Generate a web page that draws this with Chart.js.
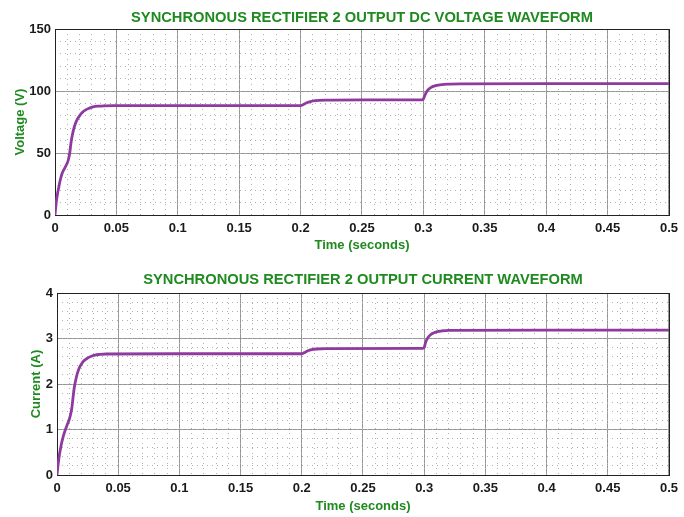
<!DOCTYPE html>
<html>
<head>
<meta charset="utf-8">
<script src="https://cdn.jsdelivr.net/npm/chart.js@4/dist/chart.umd.min.js"></script>
<style>
  html, body { margin: 0; padding: 0; background: #fff; }
  canvas { display: block; }
</style>
</head>
<body>
<canvas id="voltChart" width="684" height="258"></canvas>
<canvas id="currChart" width="684" height="259"></canvas>
<script>
// rectifier output, sampled at the corners of the trace
const timeV = [0, 0.001, 0.002, 0.003, 0.004, 0.005, 0.006, 0.008, 0.010, 0.011, 0.012, 0.013, 0.014,
  0.016, 0.018, 0.020, 0.022, 0.025, 0.028, 0.031, 0.035, 0.040, 0.05, 0.1, 0.15, 0.2,
  0.202, 0.205, 0.208, 0.212, 0.22, 0.25, 0.299, 0.300, 0.301, 0.303, 0.306, 0.31, 0.315,
  0.32, 0.33, 0.4, 0.5];
const voltage = [0, 10, 17, 22, 27, 31, 34, 38, 42, 45, 50, 58, 64,
  72, 77, 80, 82.5, 84.8, 86.2, 87.2, 87.8, 88.1, 88.2, 88.3, 88.2, 88.3,
  89, 90.5, 91.5, 92.2, 92.6, 92.8, 92.9, 93.5, 96, 100, 102.8, 104.3, 105.2,
  105.6, 105.8, 105.9, 105.9];

const timeI = [0, 0.001, 0.002, 0.003, 0.004, 0.005, 0.006, 0.008, 0.010, 0.011, 0.012, 0.013, 0.014,
  0.016, 0.018, 0.020, 0.022, 0.025, 0.028, 0.031, 0.035, 0.04, 0.1, 0.2,
  0.202, 0.205, 0.208, 0.212, 0.22, 0.299, 0.3, 0.301, 0.303, 0.306, 0.31, 0.315,
  0.32, 0.4, 0.5];
const current = [0, 0.25, 0.45, 0.6, 0.73, 0.84, 0.93, 1.08, 1.22, 1.32, 1.45, 1.68, 1.9,
  2.17, 2.34, 2.44, 2.51, 2.57, 2.61, 2.635, 2.65, 2.66, 2.665, 2.665,
  2.69, 2.73, 2.755, 2.77, 2.78, 2.785, 2.8, 2.9, 3.02, 3.1, 3.145, 3.17,
  3.18, 3.185, 3.185];

const xTickLabels = ['0', '0.05', '0.1', '0.15', '0.2', '0.25', '0.3', '0.35', '0.4', '0.45', '0.5'];
const voltTickLabels = ['0', '50', '100', '150'];
const currTickLabels = ['0', '1', '2', '3', '4'];

const GREEN = '#1f8a1f';
const TRACE = '#8e3a9e';
const FONT = "'Liberation Sans', Arial, sans-serif";

// black box round the plot area
const frame = {
  id: 'frame',
  beforeDatasetsDraw(chart) {
    const { ctx, chartArea: a } = chart;
    ctx.save();
    ctx.strokeStyle = '#222';
    ctx.lineWidth = 1;
    ctx.strokeRect(Math.round(a.left) + 0.5, Math.round(a.top) + 0.5,
      Math.round(a.right - a.left), Math.round(a.bottom - a.top));
    ctx.restore();
  }
};

function makeChart(id, cfg) {
  const pts = cfg.xs.map((x, i) => ({ x, y: cfg.ys[i] }));
  return new Chart(document.getElementById(id), {
    type: 'line',
    data: {
      datasets: [{
        data: pts,
        borderColor: TRACE,
        borderWidth: 2.8,
        pointRadius: 0,
        cubicInterpolationMode: 'monotone',
        fill: false
      }]
    },
    plugins: [frame],
    options: {
      responsive: false,
      animation: false,
      layout: { padding: { left: 8, right: cfg.right, top: 0, bottom: 0 } },
      plugins: {
        legend: { display: false },
        tooltip: { enabled: false },
        title: {
          display: true,
          text: cfg.title,
          fullSize: false,
          color: GREEN,
          font: { family: FONT, size: 14.7, weight: 'bold' },
          padding: { top: cfg.titleTop, bottom: cfg.titleBottom }
        }
      },
      scales: {
        x: {
          type: 'linear',
          min: 0, max: 0.5,
          afterFit: s => { s.height = cfg.xHeight; },
          ticks: {
            stepSize: 0.05,
            padding: 6,
            color: '#1a1a1a',
            font: { family: FONT, size: 13, weight: 'bold' },
            maxRotation: 0,
            callback: (v, i) => xTickLabels[i]
          },
          grid: { color: '#959595', drawTicks: false },
          border: { display: false },
          title: {
            display: true,
            text: 'Time (seconds)',
            color: GREEN,
            font: { family: FONT, size: 13, weight: 'bold' },
            padding: { top: 0, bottom: cfg.xTitleBottom }
          }
        },
        xMinor: {
          type: 'linear',
          position: 'bottom',
          min: 0, max: 0.5,
          ticks: { display: false, stepSize: 0.01 },
          grid: { color: '#b0b0b0', drawTicks: false },
          border: { display: false, dash: [1, 4] }
        },
        y: {
          type: 'linear',
          min: 0, max: cfg.yMax,
          afterFit: s => { s.width = cfg.yWidth; },
          ticks: {
            stepSize: cfg.yStep,
            padding: 4,
            color: '#1a1a1a',
            font: { family: FONT, size: 13, weight: 'bold' },
            callback: (v, i) => cfg.yLabels[i]
          },
          grid: { color: '#959595', drawTicks: false },
          border: { display: false },
          title: {
            display: true,
            text: cfg.yTitle,
            color: GREEN,
            font: { family: FONT, size: 13, weight: 'bold' },
            padding: { top: cfg.yTitleTop, bottom: 0 }
          }
        },
        yMinor: {
          type: 'linear',
          position: 'left',
          min: 0, max: cfg.yMax,
          ticks: { display: false, stepSize: cfg.yStep / 5 },
          grid: { color: '#b0b0b0', drawTicks: false },
          border: { display: false, dash: [1, 4] }
        }
      }
    }
  });
}

makeChart('voltChart', {
  xs: timeV, ys: voltage,
  title: 'SYNCHRONOUS RECTIFIER 2 OUTPUT DC VOLTAGE WAVEFORM',
  titleTop: 9, titleBottom: 2.4,
  yTitle: 'Voltage (V)', yTitleTop: 5,
  yMax: 150, yStep: 50, yLabels: voltTickLabels,
  yWidth: 47, right: 14,
  xHeight: 43, xTitleBottom: 5
});

makeChart('currChart', {
  xs: timeI, ys: current,
  title: 'SYNCHRONOUS RECTIFIER 2 OUTPUT CURRENT WAVEFORM',
  titleTop: 13.2, titleBottom: 4.2,
  yTitle: 'Current (A)', yTitleTop: 21,
  yMax: 4, yStep: 1, yLabels: currTickLabels,
  yWidth: 49, right: 15,
  xHeight: 42, xTitleBottom: 3
});
</script>
</body>
</html>
